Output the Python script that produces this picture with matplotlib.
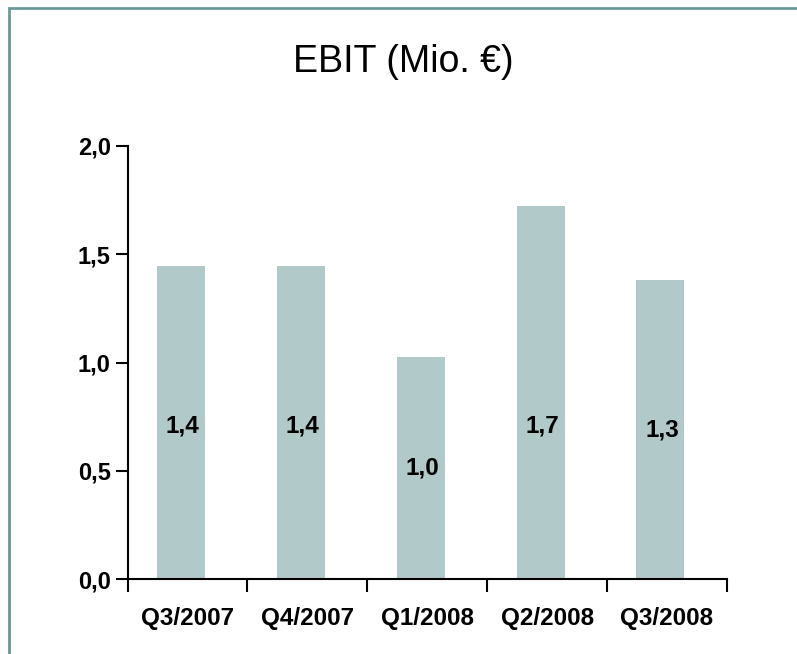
import matplotlib
matplotlib.use("Agg")
import matplotlib.pyplot as plt
from matplotlib.patches import Rectangle

categories = ["Q3/2007", "Q4/2007", "Q1/2008", "Q2/2008", "Q3/2008"]
values = [1.446, 1.446, 1.025, 1.723, 1.381]
value_labels = ["1,4", "1,4", "1,0", "1,7", "1,3"]
y_ticks = [0.0, 0.5, 1.0, 1.5, 2.0]
y_tick_labels = ["0,0", "0,5", "1,0", "1,5", "2,0"]
title = "EBIT (Mio. €)"

font = "Liberation Sans"

W, H = 797, 654
fig = plt.figure(figsize=(W / 100, H / 100), dpi=100)

# frame
fig.patches.append(Rectangle((8.5 / W, -0.1), 1.2, 1 - 8.0 / H + 0.1,
                             transform=fig.transFigure, fill=False,
                             edgecolor="#6a9898", linewidth=2))

ax = fig.add_axes([127.5 / W, 1 - 579 / H, (727 - 127.5) / W, (579 - 146) / H])
x = list(range(len(categories)))
bar_color = "#b1c9c9"
ax.bar([i - 0.055 for i in x], values, width=0.4, color=bar_color, zorder=2)

for i, (v, lab) in enumerate(zip(values, value_labels)):
    ax.text(i - 0.04, min(v / 2, 0.705), lab, ha="center", va="center",
            fontsize=17.5, fontweight="bold", family=font, color="black", zorder=3)

ax.set_xlim(-0.5, len(categories) - 0.5)
ax.set_ylim(0, 2.0)
for s in ["top", "right"]:
    ax.spines[s].set_visible(False)
for s in ["left", "bottom"]:
    ax.spines[s].set_linewidth(1.5)
    ax.spines[s].set_color("black")

ax.set_yticks(y_ticks)
ax.set_yticklabels(y_tick_labels, fontsize=17, fontweight="bold", family=font)
ax.tick_params(axis="y", direction="out", length=9, width=1.5, pad=3)

ax.set_xticks([i - 0.5 for i in range(len(categories) + 1)])
ax.set_xticklabels([])
ax.tick_params(axis="x", which="major", direction="out", length=9, width=1.5)
ax.set_xticks(x, minor=True)
ax.set_xticklabels(categories, minor=True, fontsize=17.5, fontweight="bold", family=font)
ax.tick_params(axis="x", which="minor", length=0, pad=20)

fig.text(403 / W, 1 - 72 / H, title, ha="center", va="baseline",
         fontsize=27, family=font, color="black")

fig.savefig("out.png", dpi=100)
